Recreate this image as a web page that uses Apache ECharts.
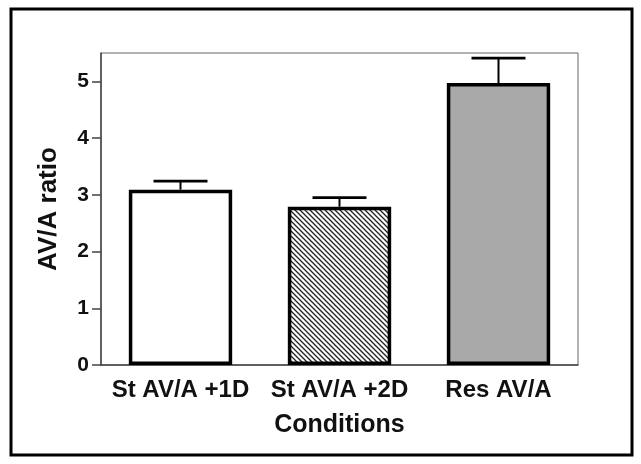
<!DOCTYPE html>
<html>
<head>
<meta charset="utf-8">
<script src="https://cdn.jsdelivr.net/npm/echarts@6/dist/echarts.min.js"></script>
<style>
  html, body { margin: 0; padding: 0; background: #fff; }
  #chart { width: 641px; height: 464px; }
</style>
</head>
<body>
<div id="chart"></div>
<script>
// Conditions and their mean AV/A ratio with error (upper whisker only)
const categories = ['St AV/A +1D', 'St AV/A +2D', 'Res AV/A'];
const means = [3.09, 2.79, 4.97];
const errors = [0.15, 0.16, 0.44];
const yTicks = [0, 1, 2, 3, 4, 5];

const FONT = '"Liberation Sans", Arial, sans-serif';

// Diagonal hatch tile for the second bar
function hatchTile() {
  const s = 5;
  const c = document.createElement('canvas');
  c.width = s; c.height = s;
  const g = c.getContext('2d');
  g.fillStyle = '#fff';
  g.fillRect(0, 0, s, s);
  g.strokeStyle = '#222';
  g.lineWidth = 1.3;
  g.beginPath();
  g.moveTo(-1, -1); g.lineTo(s + 1, s + 1);
  g.moveTo(-1, s - 1); g.lineTo(1, s + 1);
  g.moveTo(s - 1, -1); g.lineTo(s + 1, 1);
  g.stroke();
  return c;
}

const fills = ['#ffffff', { image: hatchTile(), repeat: 'repeat' }, '#a9a9a9'];

const chart = echarts.init(document.getElementById('chart'), null, { renderer: 'canvas' });

chart.setOption({
  animation: false,
  backgroundColor: '#fff',
  grid: {
    left: 101, right: 63, top: 53, bottom: 99,
    show: true, borderColor: '#666', borderWidth: 1, backgroundColor: 'transparent'
  },
  xAxis: {
    type: 'category',
    data: categories,
    name: 'Conditions',
    nameLocation: 'middle',
    nameGap: 48,
    nameTextStyle: { fontFamily: FONT, fontWeight: 'bold', fontSize: 25, color: '#111' },
    axisLine: { lineStyle: { color: '#444', width: 1.5 } },
    axisTick: { alignWithLabel: true, length: 10, lineStyle: { color: '#444', width: 1.5 } },
    axisLabel: { fontFamily: FONT, fontWeight: 'bold', fontSize: 24, color: '#111', margin: 13, interval: 0 }
  },
  yAxis: {
    type: 'value',
    min: 0, max: 5.5, interval: 1,
    name: 'AV/A ratio',
    nameLocation: 'middle',
    nameGap: 39,
    nameRotate: 90,
    nameTextStyle: { fontFamily: FONT, fontWeight: 'bold', fontSize: 26, color: '#111' },
    axisLine: { show: true, lineStyle: { color: '#444', width: 1.5 } },
    axisTick: { show: true, length: 9, customValues: yTicks, lineStyle: { color: '#444', width: 1.5 } },
    axisLabel: {
      fontFamily: FONT, fontWeight: 'bold', fontSize: 21, color: '#111', margin: 12,
      customValues: yTicks
    },
    splitLine: { show: false }
  },
  series: [
    {
      type: 'bar',
      barWidth: '65%',
      data: means.map((v, i) => ({
        value: v,
        itemStyle: { color: fills[i], borderColor: '#000', borderWidth: 3.5 }
      })),
      z: 2
    },
    {
      type: 'custom',
      z: 3,
      data: means.map((v, i) => [i, v, v + errors[i]]),
      renderItem: function (params, api) {
        const base = api.coord([api.value(0), api.value(1)]);
        const top = api.coord([api.value(0), api.value(2)]);
        const half = 27;
        return {
          type: 'group',
          children: [
            { type: 'line', shape: { x1: top[0], y1: base[1], x2: top[0], y2: top[1] }, style: { stroke: '#000', lineWidth: 2 } },
            { type: 'line', shape: { x1: top[0] - half, y1: top[1], x2: top[0] + half, y2: top[1] }, style: { stroke: '#000', lineWidth: 2.8 } }
          ]
        };
      }
    }
  ],
  graphic: [
    {
      type: 'rect',
      shape: { x: 11, y: 9, width: 621, height: 446 },
      style: { fill: 'none', stroke: '#000', lineWidth: 3 },
      silent: true
    }
  ]
});
</script>
</body>
</html>
